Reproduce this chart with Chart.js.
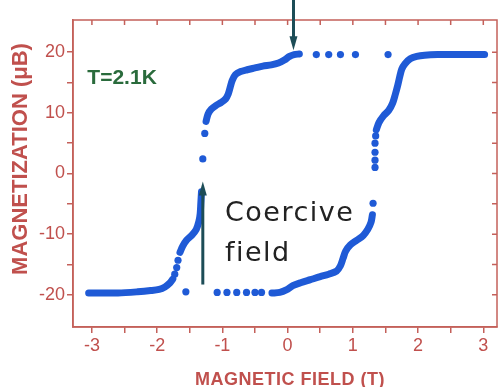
<!DOCTYPE html>
<html>
<head>
<meta charset="utf-8">
<script src="https://cdn.jsdelivr.net/npm/chart.js@4.4.1/dist/chart.umd.min.js"></script>
<style>
html, body { margin: 0; padding: 0; background: #fff; }
#wrap { width: 501px; height: 387px; }
</style>
</head>
<body>
<div id="wrap"><canvas id="c" width="501" height="387"></canvas></div>
<script>
// === Tick values ===
const xTicks = [-3, -2.5, -2, -1.5, -1, -0.5, 0, 0.5, 1, 1.5, 2, 2.5, 3];
const yTicks = [-20, -15, -10, -5, 0, 5, 10, 15, 20];

// === Descending branch (field swept from +3 T to -3 T) ===
const descTopDots = [[1.54, 19.6], [1.04, 19.6], [0.81, 19.6], [0.63, 19.6], [0.44, 19.6]];
const descTopLine = [
    [0.18, 19.7], [0.1, 19.6], [0.03, 19.3], [-0.05, 18.7], [-0.14, 18.2], [-0.25, 17.9],
    [-0.38, 17.7], [-0.5, 17.4], [-0.62, 17.1], [-0.72, 16.8], [-0.8, 16.3], [-0.85, 15.3],
    [-0.88, 14.2], [-0.91, 13.1], [-0.95, 12.3], [-1.02, 11.7], [-1.1, 11.2], [-1.17, 10.6],
    [-1.22, 9.8], [-1.25, 8.6]
];
const descJumpDots = [[-1.27, 6.6], [-1.3, 2.4]];
const descMidLine = [
    [-1.32, -3.0], [-1.33, -4.8], [-1.34, -6.6], [-1.36, -7.9], [-1.4, -9.2], [-1.47, -10.2],
    [-1.55, -11.0], [-1.61, -12.0], [-1.65, -13.0]
];
const descMidDots = [[-1.68, -14.3], [-1.7, -15.5], [-1.73, -16.6]];
const descLowLine = [
    [-1.76, -17.4], [-1.81, -18.1], [-1.88, -18.7], [-1.97, -19.1], [-2.1, -19.3], [-2.3, -19.5],
    [-2.6, -19.7], [-2.9, -19.7], [-3.05, -19.7]
];

// === Ascending branch (field swept from -3 T to +3 T) ===
const ascLowDots = [[-1.56, -19.5], [-1.08, -19.6], [-0.93, -19.6], [-0.78, -19.6], [-0.63, -19.6], [-0.5, -19.6], [-0.4, -19.6]];
const ascLowLine = [
    [-0.24, -19.7], [-0.12, -19.6], [-0.02, -19.2], [0.08, -18.5], [0.2, -18.0], [0.35, -17.5],
    [0.5, -17.0], [0.63, -16.6], [0.75, -16.1], [0.81, -15.2], [0.85, -14.0], [0.89, -12.8],
    [0.96, -11.8], [1.06, -11.0], [1.16, -10.2], [1.23, -9.2], [1.28, -8.0], [1.3, -6.8]
];
const ascJumpDots = [[1.31, -4.9], [1.34, 1.0], [1.34, 2.2], [1.34, 3.5], [1.34, 5.0], [1.35, 6.2]];
const ascTopLine = [
    [1.36, 7.2], [1.4, 8.4], [1.47, 9.5], [1.55, 10.4], [1.61, 11.6], [1.65, 13.0], [1.69, 14.6],
    [1.72, 16.0], [1.75, 17.2], [1.8, 18.1], [1.88, 18.9], [1.98, 19.3], [2.1, 19.5], [2.3, 19.6],
    [2.6, 19.6], [2.9, 19.6], [3.02, 19.6]
];

// === Annotations ===
const arrows = [
    { x: -1.3, from: -18.3, to: -1.3 },
    { x: 0.09, from: 28.6, to: 20.3 }
];
const tempLabel = { text: "T=2.1K", x: -3.07, y: 14.8 };
const coerciveLabel = { lines: ["Coercive", "field"], x: -0.96, y: [-7.9, -14.5] };

// === Styling ===
const style = {
    dotColor: "#1f5ad6",
    axisColor: "#c4605a",
    labelColor: "#c0504d",
    arrowColor: "#1d4d57",
    tempColor: "#2a6b3c",
    lineWidth: 7,
    dotRadius: 3.6
};

const toPts = arr => arr.map(([x, y]) => ({ x, y }));

function lineSet(arr) {
    return {
        data: toPts(arr),
        showLine: true,
        borderColor: style.dotColor,
        backgroundColor: style.dotColor,
        borderWidth: style.lineWidth,
        borderCapStyle: "round",
        borderJoinStyle: "round",
        tension: 0.3,
        pointRadius: 0
    };
}

function dotSet(arr) {
    return {
        data: toPts(arr),
        showLine: false,
        backgroundColor: style.dotColor,
        borderWidth: 0,
        pointRadius: style.dotRadius
    };
}

function drawArrow(ctx, x, y1, y2) {
    const dir = y2 < y1 ? -1 : 1;
    ctx.beginPath();
    ctx.moveTo(x, y1);
    ctx.lineTo(x, y2 - dir * 10);
    ctx.stroke();
    ctx.beginPath();
    ctx.moveTo(x, y2);
    ctx.lineTo(x - 4, y2 - dir * 14);
    ctx.lineTo(x + 4, y2 - dir * 14);
    ctx.closePath();
    ctx.fill();
}

const decorPlugin = {
    id: "decor",
    beforeDatasetsDraw(chart) {
        const { ctx, chartArea: a, scales: { x, y } } = chart;
        ctx.save();
        ctx.strokeStyle = style.axisColor;
        ctx.lineWidth = 1.5;
        ctx.strokeRect(a.left, a.top, a.right - a.left, a.bottom - a.top);
        ctx.beginPath();
        xTicks.forEach(v => {
            const px = x.getPixelForValue(v);
            ctx.moveTo(px, a.top);
            ctx.lineTo(px, a.top + 5);
        });
        yTicks.forEach(v => {
            const py = y.getPixelForValue(v);
            ctx.moveTo(a.right, py);
            ctx.lineTo(a.right - 5, py);
        });
        ctx.stroke();

        // axis titles
        ctx.fillStyle = style.labelColor;
        ctx.font = "bold 22px 'Liberation Sans', Arial, sans-serif";
        ctx.textAlign = "center";
        ctx.textBaseline = "middle";
        ctx.save();
        ctx.translate(21, 159);
        ctx.rotate(-Math.PI / 2);
        ctx.fillText("MAGNETIZATION (\u03bcB)", 0, 0);
        ctx.restore();
        ctx.font = "bold 18px 'Liberation Sans', Arial, sans-serif";
        ctx.letterSpacing = "0.5px";
        ctx.fillText("MAGNETIC FIELD (T)", 290, 380);
        ctx.letterSpacing = "0px";

        // temperature label
        ctx.fillStyle = style.tempColor;
        ctx.font = "bold 21px 'Liberation Sans', Arial, sans-serif";
        ctx.textAlign = "left";
        ctx.textBaseline = "alphabetic";
        ctx.fillText(tempLabel.text, x.getPixelForValue(tempLabel.x), y.getPixelForValue(tempLabel.y));
        ctx.restore();
    },
    afterDatasetsDraw(chart) {
        const { ctx, scales: { x, y } } = chart;
        ctx.save();
        ctx.strokeStyle = style.arrowColor;
        ctx.fillStyle = style.arrowColor;
        ctx.lineWidth = 3;
        arrows.forEach(ar => {
            drawArrow(ctx, x.getPixelForValue(ar.x), y.getPixelForValue(ar.from), y.getPixelForValue(ar.to));
        });
        ctx.fillStyle = "#222";
        ctx.font = "27px 'DejaVu Sans', sans-serif";
        ctx.letterSpacing = "1.5px";
        ctx.textAlign = "left";
        ctx.textBaseline = "alphabetic";
        coerciveLabel.lines.forEach((t, i) => {
            ctx.fillText(t, x.getPixelForValue(coerciveLabel.x), y.getPixelForValue(coerciveLabel.y[i]));
        });
        ctx.restore();
    }
};

new Chart(document.getElementById("c"), {
    type: "scatter",
    data: {
        datasets: [
            lineSet(descTopLine), dotSet(descTopDots), dotSet(descJumpDots),
            lineSet(descMidLine), dotSet(descMidDots), lineSet(descLowLine),
            dotSet(ascLowDots), lineSet(ascLowLine), dotSet(ascJumpDots), lineSet(ascTopLine)
        ]
    },
    options: {
        responsive: false,
        animation: false,
        layout: { padding: { top: 20, right: 1, left: 0, bottom: 0 } },
        scales: {
            x: {
                type: "linear",
                min: -3.29,
                max: 3.21,
                afterFit: s => { s.height = 60; },
                afterBuildTicks: s => { s.ticks = xTicks.map(v => ({ value: v })); },
                ticks: {
                    autoSkip: false,
                    maxRotation: 0,
                    padding: 2,
                    color: style.labelColor,
                    font: { family: "'Liberation Sans', Arial, sans-serif", size: 18 },
                    callback: v => (Number.isInteger(v) ? String(v) : "")
                },
                grid: { drawOnChartArea: false, drawTicks: true, tickLength: 6, color: style.axisColor, lineWidth: 1.5 },
                border: { color: style.axisColor, width: 1.5 }
            },
            y: {
                min: -25.3,
                max: 25.3,
                afterFit: s => { s.width = 73; },
                afterBuildTicks: s => { s.ticks = yTicks.map(v => ({ value: v })); },
                ticks: {
                    autoSkip: false,
                    padding: 2,
                    color: style.labelColor,
                    font: { family: "'Liberation Sans', Arial, sans-serif", size: 18 },
                    callback: v => (v % 10 === 0 ? String(v) : "")
                },
                grid: { drawOnChartArea: false, drawTicks: true, tickLength: 6, color: style.axisColor, lineWidth: 1.5 },
                border: { color: style.axisColor, width: 1.5 }
            }
        },
        plugins: {
            legend: { display: false },
            tooltip: { enabled: false }
        }
    },
    plugins: [decorPlugin]
});
</script>
</body>
</html>
